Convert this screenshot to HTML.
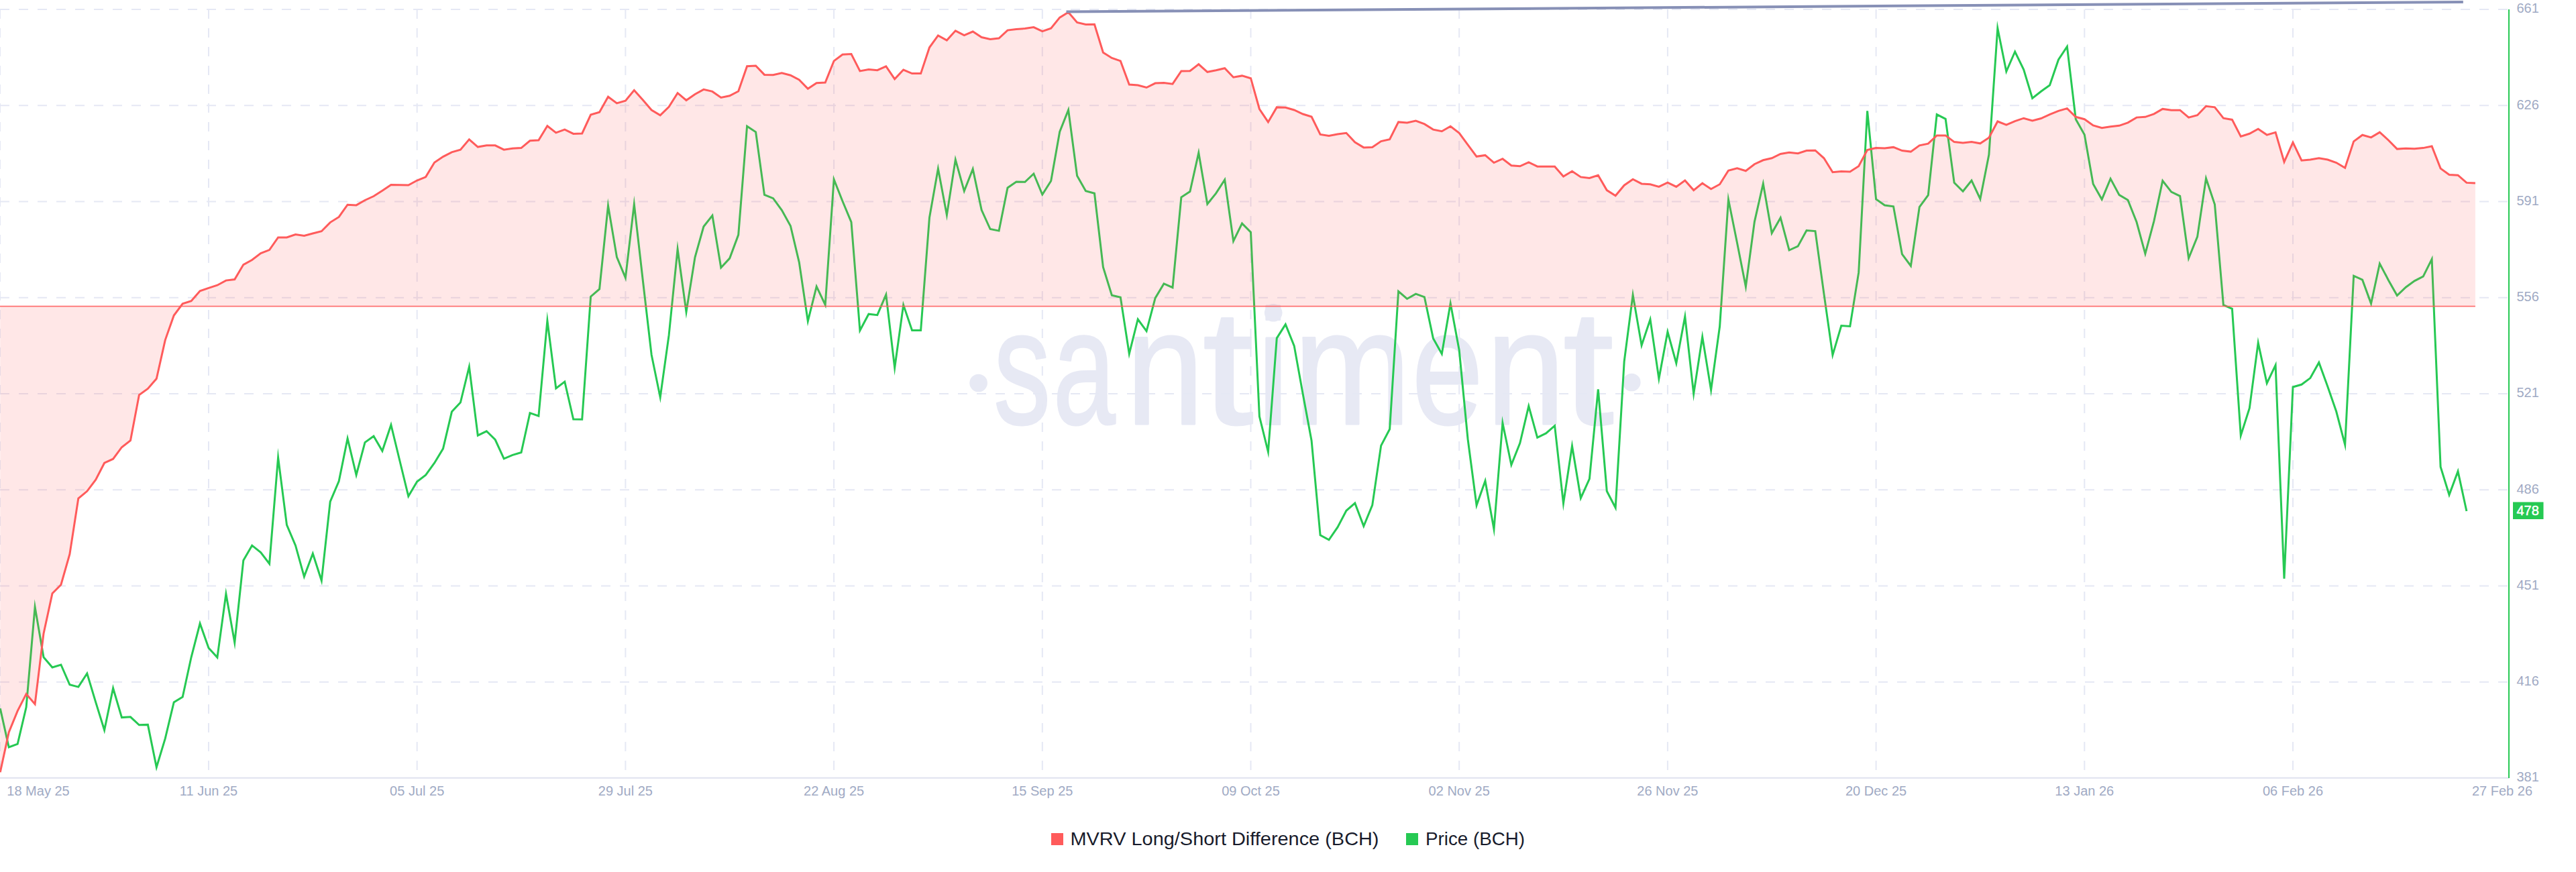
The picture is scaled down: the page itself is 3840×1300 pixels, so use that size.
<!DOCTYPE html>
<html><head><meta charset="utf-8"><title>chart</title>
<style>
html,body{margin:0;padding:0;background:#fff;}
body{width:3840px;height:1300px;overflow:hidden;position:relative;font-family:"Liberation Sans",sans-serif;}
svg{position:absolute;left:0;top:0;display:block}
text{font-family:"Liberation Sans",sans-serif;}
</style></head><body>
<svg width="3840" height="1300" viewBox="0 0 3840 1300">
<rect width="3840" height="1300" fill="#ffffff"/>

<g fill="#e7e9f4">
<circle cx="1458.6" cy="571" r="13.3"/><circle cx="2432.3" cy="570" r="13.3"/><circle cx="1898.2" cy="466.3" r="13.3"/>
<text y="632" font-size="243.5" stroke="#e7e9f4" stroke-width="3" stroke-linejoin="round"><tspan x="1481.25" textLength="84.86" lengthAdjust="spacingAndGlyphs">s</tspan><tspan x="1569.79" textLength="92.84" lengthAdjust="spacingAndGlyphs">a</tspan><tspan x="1678.69" textLength="115.55" lengthAdjust="spacingAndGlyphs">n</tspan><tspan x="1792.82" textLength="75.64" lengthAdjust="spacingAndGlyphs">t</tspan><tspan x="1872.40" textLength="50.75" lengthAdjust="spacingAndGlyphs">i</tspan><tspan x="1928.82" textLength="173.97" lengthAdjust="spacingAndGlyphs">m</tspan><tspan x="2104.70" textLength="105.91" lengthAdjust="spacingAndGlyphs">e</tspan><tspan x="2215.69" textLength="117.25" lengthAdjust="spacingAndGlyphs">n</tspan><tspan x="2330.02" textLength="75.53" lengthAdjust="spacingAndGlyphs">t</tspan></text>
</g>
<g stroke="#e5e8f4" stroke-width="2" stroke-dasharray="14 14" fill="none">
<line x1="0" y1="14.00" x2="3739" y2="14.00"/>
<line x1="0" y1="157.25" x2="3739" y2="157.25"/>
<line x1="0" y1="300.50" x2="3739" y2="300.50"/>
<line x1="0" y1="443.75" x2="3739" y2="443.75"/>
<line x1="0" y1="587.00" x2="3739" y2="587.00"/>
<line x1="0" y1="730.25" x2="3739" y2="730.25"/>
<line x1="0" y1="873.50" x2="3739" y2="873.50"/>
<line x1="0" y1="1016.75" x2="3739" y2="1016.75"/>
<line x1="311.0" y1="14" x2="311.0" y2="1159"/>
<line x1="621.7" y1="14" x2="621.7" y2="1159"/>
<line x1="932.4" y1="14" x2="932.4" y2="1159"/>
<line x1="1243.1" y1="14" x2="1243.1" y2="1159"/>
<line x1="1553.8" y1="14" x2="1553.8" y2="1159"/>
<line x1="1864.5" y1="14" x2="1864.5" y2="1159"/>
<line x1="2175.2" y1="14" x2="2175.2" y2="1159"/>
<line x1="2485.9" y1="14" x2="2485.9" y2="1159"/>
<line x1="2796.6" y1="14" x2="2796.6" y2="1159"/>
<line x1="3107.3" y1="14" x2="3107.3" y2="1159"/>
<line x1="3418.0" y1="14" x2="3418.0" y2="1159"/>
</g>
<line x1="0" y1="14" x2="0" y2="1159" stroke="#e5e8f4" stroke-width="2" stroke-dasharray="14 14"/>
<polyline points="0.3,1056.2 13.2,1114.0 26.2,1109.1 39.1,1054.3 52.1,905.0 65.0,979.8 78.0,995.0 90.9,991.0 103.9,1020.8 116.8,1024.1 129.8,1004.0 142.7,1046.9 155.6,1088.5 168.6,1026.0 181.5,1069.6 194.5,1068.8 207.4,1080.8 220.4,1080.4 233.3,1143.8 246.3,1100.9 259.2,1046.9 272.2,1039.0 285.1,979.8 298.1,929.5 311.0,966.0 323.9,980.1 336.9,885.5 349.8,958.0 362.8,835.5 375.7,813.2 388.7,823.6 401.6,840.5 414.6,682.0 427.5,782.6 440.5,813.2 453.4,859.6 466.3,825.2 479.3,865.5 492.2,748.0 505.2,717.4 518.1,653.7 531.1,708.1 544.0,659.6 557.0,650.3 569.9,672.3 582.9,633.5 595.8,686.5 608.8,739.8 621.7,718.1 634.6,708.1 647.6,690.2 660.5,668.9 673.5,613.8 686.4,600.0 699.4,546.7 712.3,649.2 725.3,642.8 738.2,655.5 751.2,683.8 764.1,678.3 777.0,674.5 790.0,615.6 802.9,620.1 815.9,478.0 828.8,579.0 841.8,569.0 854.7,625.0 867.7,625.3 880.6,442.2 893.6,431.0 906.5,306.5 919.5,383.4 932.4,414.2 945.3,304.6 958.3,418.0 971.2,529.0 984.2,592.2 997.1,499.9 1010.1,371.5 1023.0,465.0 1036.0,383.6 1048.9,337.8 1061.9,321.3 1074.8,398.9 1087.7,385.1 1100.7,350.1 1113.6,188.2 1126.6,196.8 1139.5,290.5 1152.5,295.7 1165.4,313.3 1178.4,336.7 1191.3,391.1 1204.3,478.8 1217.2,427.2 1230.2,454.5 1243.1,267.5 1256.0,300.0 1269.0,331.1 1281.9,492.8 1294.9,468.2 1307.8,469.7 1320.8,439.3 1333.7,548.3 1346.7,454.6 1359.6,492.4 1372.6,492.4 1385.5,324.5 1398.4,251.5 1411.4,320.5 1424.3,238.0 1437.3,284.8 1450.2,252.0 1463.2,313.0 1476.1,341.5 1489.1,344.1 1502.0,279.9 1515.0,271.0 1527.9,271.3 1540.9,259.0 1553.8,290.0 1566.7,269.8 1579.7,196.4 1592.6,164.0 1605.6,262.0 1618.5,284.8 1631.5,288.3 1644.4,398.2 1657.4,440.3 1670.3,443.3 1683.3,527.4 1696.2,476.0 1709.1,493.6 1722.1,444.4 1735.0,423.0 1748.0,428.7 1760.9,294.0 1773.9,285.5 1786.8,227.8 1799.8,304.1 1812.7,288.1 1825.7,268.0 1838.6,359.5 1851.5,333.1 1864.5,346.1 1877.4,620.8 1890.4,673.5 1903.3,504.1 1916.3,483.6 1929.2,515.6 1942.2,587.6 1955.1,657.0 1968.1,797.8 1981.0,804.9 1994.0,785.9 2006.9,761.3 2019.8,750.1 2032.8,784.4 2045.7,753.1 2058.7,664.4 2071.6,639.8 2084.6,434.4 2097.5,445.5 2110.5,438.1 2123.4,442.9 2136.4,504.4 2149.3,527.5 2162.2,452.2 2175.2,522.0 2188.1,655.0 2201.1,753.3 2214.0,716.9 2227.0,788.9 2239.9,630.4 2252.9,693.0 2265.8,660.6 2278.8,605.3 2291.7,652.4 2304.7,645.9 2317.6,634.7 2330.5,750.5 2343.5,664.9 2356.4,742.6 2369.4,713.9 2382.3,580.4 2395.3,732.2 2408.2,756.9 2421.2,538.7 2434.1,439.7 2447.1,514.8 2460.0,476.3 2472.9,564.6 2485.9,494.6 2498.8,541.5 2511.8,472.0 2524.7,587.0 2537.7,502.2 2550.6,581.3 2563.6,486.5 2576.5,297.4 2589.5,362.0 2602.4,427.3 2615.4,330.6 2628.3,273.8 2641.2,347.6 2654.2,324.7 2667.1,373.0 2680.1,367.1 2693.0,343.6 2706.0,344.6 2718.9,437.9 2731.9,529.3 2744.8,485.6 2757.8,486.4 2770.7,406.2 2783.6,165.4 2796.6,297.0 2809.5,306.0 2822.5,307.8 2835.4,379.0 2848.4,396.5 2861.3,308.5 2874.3,291.0 2887.2,170.6 2900.2,177.3 2913.1,272.3 2926.1,285.3 2939.0,269.0 2951.9,296.6 2964.9,230.6 2977.8,42.0 2990.8,106.5 3003.7,77.0 3016.7,103.9 3029.6,146.4 3042.6,136.3 3055.5,127.0 3068.5,89.0 3081.4,69.5 3094.3,177.7 3107.3,200.8 3120.2,274.2 3133.2,297.3 3146.1,266.4 3159.1,290.6 3172.0,298.3 3185.0,331.0 3197.9,378.3 3210.9,329.6 3223.8,269.5 3236.8,286.1 3249.7,292.3 3262.6,385.0 3275.6,352.9 3288.5,266.0 3301.5,304.8 3314.4,454.7 3327.4,460.3 3340.3,649.3 3353.3,608.5 3366.2,511.1 3379.2,571.4 3392.1,544.4 3405.0,862.6 3418.0,577.0 3430.9,573.3 3443.9,563.6 3456.8,540.4 3469.8,576.3 3482.7,613.5 3495.7,663.1 3508.6,411.2 3521.6,417.2 3534.5,452.6 3547.4,393.0 3560.4,417.7 3573.3,440.5 3586.3,428.2 3599.2,418.9 3612.2,412.1 3625.1,386.4 3638.1,696.0 3651.0,737.8 3664.0,702.7 3676.9,762.0" fill="none" stroke="#26c953" stroke-width="3" stroke-linejoin="miter" stroke-miterlimit="10"/>
<path d="M0.3,456.7 L0.3,1151.2 L13.2,1091.6 L26.2,1059.9 L39.1,1034.6 L52.1,1049.8 L65.0,944.4 L78.0,884.7 L90.9,871.7 L103.9,826.2 L116.8,743.1 L129.8,732.3 L142.7,715.1 L155.6,690.2 L168.6,684.2 L181.5,666.7 L194.5,656.6 L207.4,588.8 L220.4,579.5 L233.3,564.6 L246.3,506.8 L259.2,470.3 L272.2,452.8 L285.1,448.7 L298.1,433.8 L311.0,429.3 L323.9,425.2 L336.9,418.1 L349.8,416.6 L362.8,394.6 L375.7,387.5 L388.7,377.5 L401.6,372.6 L414.6,354.0 L427.5,354.0 L440.5,349.5 L453.4,351.4 L466.3,348.0 L479.3,344.7 L492.2,331.6 L505.2,323.4 L518.1,305.2 L531.1,305.9 L544.0,298.5 L557.0,292.5 L569.9,284.3 L582.9,275.4 L595.8,275.7 L608.8,276.1 L621.7,269.0 L634.6,263.8 L647.6,242.2 L660.5,233.6 L673.5,226.9 L686.4,223.2 L699.4,207.9 L712.3,219.1 L725.3,216.8 L738.2,216.8 L751.2,223.2 L764.1,221.3 L777.0,220.6 L790.0,209.8 L802.9,209.0 L815.9,187.8 L828.8,197.9 L841.8,193.1 L854.7,199.4 L867.7,199.0 L880.6,171.1 L893.6,167.3 L906.5,144.2 L919.5,153.9 L932.4,150.2 L945.3,134.6 L958.3,149.1 L971.2,164.0 L984.2,171.8 L997.1,159.2 L1010.1,138.7 L1023.0,149.5 L1036.0,140.5 L1048.9,133.4 L1061.9,136.4 L1074.8,145.4 L1087.7,142.8 L1100.7,136.0 L1113.6,98.8 L1126.6,98.0 L1139.5,111.4 L1152.5,111.8 L1165.4,108.8 L1178.4,112.2 L1191.3,118.9 L1204.3,132.3 L1217.2,123.7 L1230.2,123.0 L1243.1,90.9 L1256.0,81.3 L1269.0,80.5 L1281.9,105.9 L1294.9,103.6 L1307.8,104.7 L1320.8,98.8 L1333.7,117.8 L1346.7,104.0 L1359.6,109.6 L1372.6,109.6 L1385.5,70.8 L1398.4,52.9 L1411.4,60.0 L1424.3,45.8 L1437.3,52.6 L1450.2,47.0 L1463.2,55.5 L1476.1,58.5 L1489.1,57.0 L1502.0,45.1 L1515.0,43.6 L1527.9,42.5 L1540.9,40.6 L1553.8,46.6 L1566.7,42.1 L1579.7,26.1 L1592.6,18.3 L1605.6,33.5 L1618.5,36.5 L1631.5,36.2 L1644.4,78.3 L1657.4,86.5 L1670.3,90.9 L1683.3,126.0 L1696.2,127.1 L1709.1,130.5 L1722.1,124.1 L1735.0,123.4 L1748.0,125.2 L1760.9,106.0 L1773.9,105.8 L1786.8,95.8 L1799.8,107.3 L1812.7,104.7 L1825.7,101.7 L1838.6,115.2 L1851.5,112.9 L1864.5,116.7 L1877.4,162.5 L1890.4,181.9 L1903.3,159.9 L1916.3,160.3 L1929.2,164.0 L1942.2,170.0 L1955.1,174.1 L1968.1,200.5 L1981.0,202.4 L1994.0,200.1 L2006.9,198.3 L2019.8,212.1 L2032.8,219.9 L2045.7,219.5 L2058.7,210.6 L2071.6,207.6 L2084.6,181.9 L2097.5,183.0 L2110.5,180.0 L2123.4,184.9 L2136.4,193.1 L2149.3,195.7 L2162.2,188.2 L2175.2,198.3 L2188.1,215.8 L2201.1,233.3 L2214.0,231.4 L2227.0,242.6 L2239.9,236.7 L2252.9,246.7 L2265.8,247.8 L2278.8,241.9 L2291.7,248.2 L2304.7,248.2 L2317.6,248.2 L2330.5,263.1 L2343.5,255.3 L2356.4,263.9 L2369.4,265.4 L2382.3,261.3 L2395.3,283.6 L2408.2,291.8 L2421.2,276.2 L2434.1,267.2 L2447.1,273.9 L2460.0,274.7 L2472.9,278.4 L2485.9,272.1 L2498.8,278.4 L2511.8,269.1 L2524.7,283.6 L2537.7,273.2 L2550.6,281.8 L2563.6,274.7 L2576.5,254.2 L2589.5,250.8 L2602.4,254.8 L2615.4,244.7 L2628.3,238.8 L2641.2,235.8 L2654.2,229.5 L2667.1,227.2 L2680.1,228.7 L2693.0,224.6 L2706.0,224.2 L2718.9,235.8 L2731.9,256.7 L2744.8,255.6 L2757.8,255.9 L2770.7,247.7 L2783.6,223.5 L2796.6,220.5 L2809.5,220.9 L2822.5,219.4 L2835.4,224.6 L2848.4,226.1 L2861.3,216.8 L2874.3,214.2 L2887.2,201.9 L2900.2,201.9 L2913.1,211.6 L2926.1,213.1 L2939.0,211.6 L2951.9,213.8 L2964.9,205.2 L2977.8,181.0 L2990.8,186.2 L3003.7,180.6 L3016.7,176.2 L3029.6,179.9 L3042.6,176.5 L3055.5,170.6 L3068.5,165.4 L3081.4,161.6 L3094.3,174.3 L3107.3,177.7 L3120.2,187.0 L3133.2,190.7 L3146.1,188.8 L3159.1,187.3 L3172.0,182.9 L3185.0,175.1 L3197.9,174.3 L3210.9,169.8 L3223.8,162.4 L3236.8,164.2 L3249.7,164.2 L3262.6,175.1 L3275.6,171.7 L3288.5,158.3 L3301.5,159.8 L3314.4,176.2 L3327.4,178.4 L3340.3,203.4 L3353.3,199.3 L3366.2,192.2 L3379.2,201.1 L3392.1,197.4 L3405.0,241.4 L3418.0,212.3 L3430.9,239.2 L3443.9,238.0 L3456.8,235.8 L3469.8,238.0 L3482.7,242.5 L3495.7,250.3 L3508.6,210.9 L3521.6,201.2 L3534.5,204.9 L3547.4,197.1 L3560.4,209.0 L3573.3,222.1 L3586.3,221.3 L3599.2,221.7 L3612.2,220.6 L3625.1,218.0 L3638.1,251.1 L3651.0,260.5 L3664.0,261.2 L3676.9,272.4 L3689.9,273.1 L3689.9,456.7 Z" fill="#ff5b5b" fill-opacity="0.15" stroke="none"/>
<line x1="0" y1="456.7" x2="3689.9" y2="456.7" stroke="#ff5b5b" stroke-opacity="0.85" stroke-width="1.8"/>
<polyline points="0.3,1151.2 13.2,1091.6 26.2,1059.9 39.1,1034.6 52.1,1049.8 65.0,944.4 78.0,884.7 90.9,871.7 103.9,826.2 116.8,743.1 129.8,732.3 142.7,715.1 155.6,690.2 168.6,684.2 181.5,666.7 194.5,656.6 207.4,588.8 220.4,579.5 233.3,564.6 246.3,506.8 259.2,470.3 272.2,452.8 285.1,448.7 298.1,433.8 311.0,429.3 323.9,425.2 336.9,418.1 349.8,416.6 362.8,394.6 375.7,387.5 388.7,377.5 401.6,372.6 414.6,354.0 427.5,354.0 440.5,349.5 453.4,351.4 466.3,348.0 479.3,344.7 492.2,331.6 505.2,323.4 518.1,305.2 531.1,305.9 544.0,298.5 557.0,292.5 569.9,284.3 582.9,275.4 595.8,275.7 608.8,276.1 621.7,269.0 634.6,263.8 647.6,242.2 660.5,233.6 673.5,226.9 686.4,223.2 699.4,207.9 712.3,219.1 725.3,216.8 738.2,216.8 751.2,223.2 764.1,221.3 777.0,220.6 790.0,209.8 802.9,209.0 815.9,187.8 828.8,197.9 841.8,193.1 854.7,199.4 867.7,199.0 880.6,171.1 893.6,167.3 906.5,144.2 919.5,153.9 932.4,150.2 945.3,134.6 958.3,149.1 971.2,164.0 984.2,171.8 997.1,159.2 1010.1,138.7 1023.0,149.5 1036.0,140.5 1048.9,133.4 1061.9,136.4 1074.8,145.4 1087.7,142.8 1100.7,136.0 1113.6,98.8 1126.6,98.0 1139.5,111.4 1152.5,111.8 1165.4,108.8 1178.4,112.2 1191.3,118.9 1204.3,132.3 1217.2,123.7 1230.2,123.0 1243.1,90.9 1256.0,81.3 1269.0,80.5 1281.9,105.9 1294.9,103.6 1307.8,104.7 1320.8,98.8 1333.7,117.8 1346.7,104.0 1359.6,109.6 1372.6,109.6 1385.5,70.8 1398.4,52.9 1411.4,60.0 1424.3,45.8 1437.3,52.6 1450.2,47.0 1463.2,55.5 1476.1,58.5 1489.1,57.0 1502.0,45.1 1515.0,43.6 1527.9,42.5 1540.9,40.6 1553.8,46.6 1566.7,42.1 1579.7,26.1 1592.6,18.3 1605.6,33.5 1618.5,36.5 1631.5,36.2 1644.4,78.3 1657.4,86.5 1670.3,90.9 1683.3,126.0 1696.2,127.1 1709.1,130.5 1722.1,124.1 1735.0,123.4 1748.0,125.2 1760.9,106.0 1773.9,105.8 1786.8,95.8 1799.8,107.3 1812.7,104.7 1825.7,101.7 1838.6,115.2 1851.5,112.9 1864.5,116.7 1877.4,162.5 1890.4,181.9 1903.3,159.9 1916.3,160.3 1929.2,164.0 1942.2,170.0 1955.1,174.1 1968.1,200.5 1981.0,202.4 1994.0,200.1 2006.9,198.3 2019.8,212.1 2032.8,219.9 2045.7,219.5 2058.7,210.6 2071.6,207.6 2084.6,181.9 2097.5,183.0 2110.5,180.0 2123.4,184.9 2136.4,193.1 2149.3,195.7 2162.2,188.2 2175.2,198.3 2188.1,215.8 2201.1,233.3 2214.0,231.4 2227.0,242.6 2239.9,236.7 2252.9,246.7 2265.8,247.8 2278.8,241.9 2291.7,248.2 2304.7,248.2 2317.6,248.2 2330.5,263.1 2343.5,255.3 2356.4,263.9 2369.4,265.4 2382.3,261.3 2395.3,283.6 2408.2,291.8 2421.2,276.2 2434.1,267.2 2447.1,273.9 2460.0,274.7 2472.9,278.4 2485.9,272.1 2498.8,278.4 2511.8,269.1 2524.7,283.6 2537.7,273.2 2550.6,281.8 2563.6,274.7 2576.5,254.2 2589.5,250.8 2602.4,254.8 2615.4,244.7 2628.3,238.8 2641.2,235.8 2654.2,229.5 2667.1,227.2 2680.1,228.7 2693.0,224.6 2706.0,224.2 2718.9,235.8 2731.9,256.7 2744.8,255.6 2757.8,255.9 2770.7,247.7 2783.6,223.5 2796.6,220.5 2809.5,220.9 2822.5,219.4 2835.4,224.6 2848.4,226.1 2861.3,216.8 2874.3,214.2 2887.2,201.9 2900.2,201.9 2913.1,211.6 2926.1,213.1 2939.0,211.6 2951.9,213.8 2964.9,205.2 2977.8,181.0 2990.8,186.2 3003.7,180.6 3016.7,176.2 3029.6,179.9 3042.6,176.5 3055.5,170.6 3068.5,165.4 3081.4,161.6 3094.3,174.3 3107.3,177.7 3120.2,187.0 3133.2,190.7 3146.1,188.8 3159.1,187.3 3172.0,182.9 3185.0,175.1 3197.9,174.3 3210.9,169.8 3223.8,162.4 3236.8,164.2 3249.7,164.2 3262.6,175.1 3275.6,171.7 3288.5,158.3 3301.5,159.8 3314.4,176.2 3327.4,178.4 3340.3,203.4 3353.3,199.3 3366.2,192.2 3379.2,201.1 3392.1,197.4 3405.0,241.4 3418.0,212.3 3430.9,239.2 3443.9,238.0 3456.8,235.8 3469.8,238.0 3482.7,242.5 3495.7,250.3 3508.6,210.9 3521.6,201.2 3534.5,204.9 3547.4,197.1 3560.4,209.0 3573.3,222.1 3586.3,221.3 3599.2,221.7 3612.2,220.6 3625.1,218.0 3638.1,251.1 3651.0,260.5 3664.0,261.2 3676.9,272.4 3689.9,273.1" fill="none" stroke="#ff5b5b" stroke-width="3" stroke-linejoin="miter" stroke-miterlimit="10"/>
<line x1="1589.5" y1="17.5" x2="3671.8" y2="3" stroke="#8790b6" stroke-width="4"/>
<line x1="0" y1="1159.8" x2="3740" y2="1159.8" stroke="#dfe2ef" stroke-width="2"/>
<line x1="3740" y1="14" x2="3740" y2="1160" stroke="#26c953" stroke-width="2"/>
<g fill="#9faac4" font-size="20">
<text x="3751.5" y="19.3">661</text>
<text x="3751.5" y="162.6">626</text>
<text x="3751.5" y="305.8">591</text>
<text x="3751.5" y="449.1">556</text>
<text x="3751.5" y="592.3">521</text>
<text x="3751.5" y="735.5">486</text>
<text x="3751.5" y="878.8">451</text>
<text x="3751.5" y="1022.0">416</text>
<text x="3751.5" y="1165.3">381</text>
<text x="10.3" y="1186">18 May 25</text>
<text x="311.0" y="1186" text-anchor="middle">11 Jun 25</text>
<text x="621.7" y="1186" text-anchor="middle">05 Jul 25</text>
<text x="932.4" y="1186" text-anchor="middle">29 Jul 25</text>
<text x="1243.1" y="1186" text-anchor="middle">22 Aug 25</text>
<text x="1553.8" y="1186" text-anchor="middle">15 Sep 25</text>
<text x="1864.5" y="1186" text-anchor="middle">09 Oct 25</text>
<text x="2175.2" y="1186" text-anchor="middle">02 Nov 25</text>
<text x="2485.9" y="1186" text-anchor="middle">26 Nov 25</text>
<text x="2796.6" y="1186" text-anchor="middle">20 Dec 25</text>
<text x="3107.3" y="1186" text-anchor="middle">13 Jan 26</text>
<text x="3418.0" y="1186" text-anchor="middle">06 Feb 26</text>
<text x="3730" y="1186" text-anchor="middle">27 Feb 26</text>
</g>
<rect x="3746" y="748.5" width="45.5" height="25.5" fill="#26c953"/>
<text x="3768.2" y="767.5" font-size="20" fill="#ffffff" stroke="#ffffff" stroke-width="0.5" text-anchor="middle">478</text>
<rect x="1567" y="1242" width="18" height="18" fill="#ff5b5b"/>
<text x="1595.5" y="1260.3" font-size="28" fill="#181b2b" textLength="460" lengthAdjust="spacingAndGlyphs">MVRV Long/Short Difference (BCH)</text>
<rect x="2096" y="1242" width="18" height="18" fill="#26c953"/>
<text x="2125" y="1260.3" font-size="28" fill="#181b2b" textLength="148" lengthAdjust="spacingAndGlyphs">Price (BCH)</text>
</svg></body></html>
